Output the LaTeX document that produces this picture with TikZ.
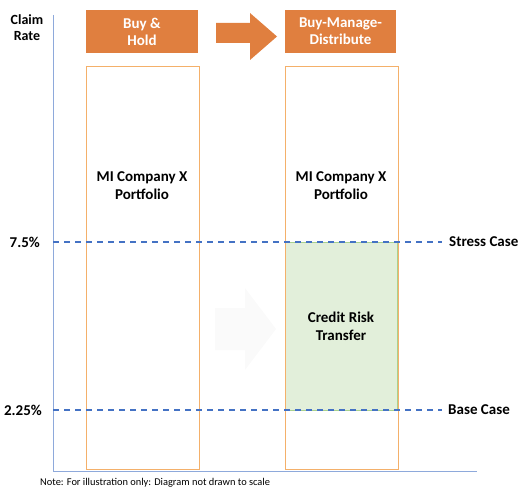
\documentclass[tikz,border=0pt]{standalone}
\usepackage{fontspec}
\setmainfont{Carlito}
\definecolor{hdrorange}{HTML}{E07F3F}
\definecolor{outorange}{HTML}{F4B06A}
\definecolor{axisblue}{HTML}{8EA9DB}
\definecolor{dashblue}{HTML}{4472C4}
\definecolor{greenfill}{HTML}{E2EFDA}
\definecolor{greenline}{HTML}{A9D18E}
\definecolor{faint}{HTML}{FAFAFA}
\tikzset{
  hdr/.style={fill=hdrorange, draw=none, text=white, font=\bfseries\fontsize{15}{17}\selectfont, align=center, inner sep=0pt},
  portf/.style={draw=outorange, line width=1pt, fill=none},
  lbl/.style={font=\bfseries\fontsize{15}{18}\selectfont, align=center, text=black},
  dashln/.style={draw=dashblue, line width=1.3pt, dash pattern=on 6pt off 5pt},
}
\begin{document}
\begin{tikzpicture}[x=1pt,y=-1pt]
\useasboundingbox (0,0) rectangle (520,487);
% axes
\draw[axisblue, line width=1pt] (53,15) -- (53,471) -- (477,471);
\node[lbl, font=\bfseries\fontsize{14}{16}\selectfont] (claim) at (27,28) {Claim\\Rate};
% header boxes
\path[hdr] (86,10) rectangle (198,53);
\node[hdr] (bh) at (142,31.5) {Buy \&\\Hold};
\path[hdr] (285,10) rectangle (396,53);
\node[hdr] (bmd) at (340.5,31.5) {Buy-Manage-\\Distribute};
\fill[hdrorange] (216,23) -- (250,23) -- (250,13) -- (277,36.5) -- (250,60) -- (250,43) -- (216,43) -- cycle;
% faint arrow
\fill[faint] (215,308) -- (245,308) -- (245,288) -- (276,329) -- (245,370) -- (245,350) -- (215,350) -- cycle;
% green area
\fill[greenfill] (285,242) rectangle (397.5,410);
\draw[greenline, line width=1pt] (285,242) rectangle (397.5,410);
% portfolios
\draw[portf] (86,67) rectangle (199,469);
\draw[portf] (285,67) rectangle (398,469);
\node[lbl] (p1) at (142,186) {MI Company X\\Portfolio};
\node[lbl] (p2) at (341,186) {MI Company X\\Portfolio};
\node[lbl] (crt) at (341,326) {Credit Risk\\Transfer};
% dashed lines
\coordinate (s0) at (53,242);
\coordinate (s1) at (442,242);
\coordinate (b0) at (53,410);
\coordinate (b1) at (442,410);
\draw[dashln] (s0) -- (s1);
\draw[dashln] (b0) -- (b1);
\node[lbl, anchor=west, inner sep=0pt] (stress) at (449,242) {Stress Case};
\node[lbl, anchor=west, inner sep=0pt] (base) at (448,410) {Base Case};
\node[lbl, anchor=east, inner sep=0pt] (r1) at (40,242) {7.5\%};
\node[lbl, anchor=east, inner sep=0pt] (r2) at (42,410) {2.25\%};
\node[font=\fontsize{10.4}{12}\selectfont, anchor=west, inner sep=0pt] (note) at (40,483) {Note: For illustration only: Diagram not drawn to scale};
\end{tikzpicture}
\end{document}
